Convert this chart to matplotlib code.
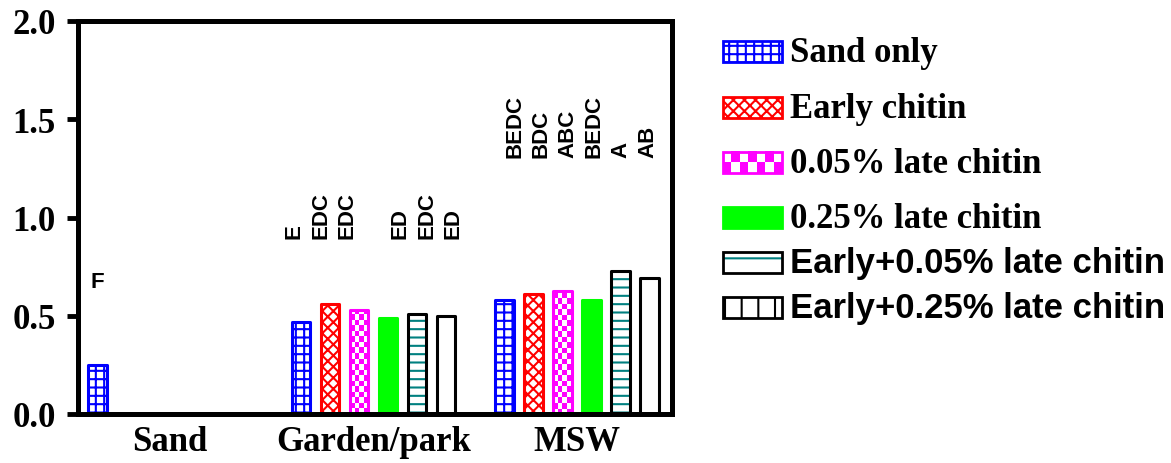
import numpy as np
import matplotlib
matplotlib.use('Agg')
import matplotlib.pyplot as plt
from matplotlib.patches import Rectangle
from matplotlib.colors import ListedColormap

plt.rcParams['hatch.linewidth'] = 1.5

groups = ['Sand', 'Garden/park', 'MSW']
treatments = ['Sand only', 'Early chitin', '0.05% late chitin', '0.25% late chitin',
              'Early+0.05% late chitin', 'Early+0.25% late chitin']

# dry weight per treatment, one list per growth medium
sand_vals = [0.25, np.nan, np.nan, np.nan, np.nan, np.nan]
garden_vals = [0.47, 0.56, 0.53, 0.49, 0.51, 0.50]
msw_vals = [0.58, 0.61, 0.625, 0.58, 0.73, 0.69]

# significance letters
sand_letters = ['F']
garden_letters = ['E', 'EDC', 'EDC', 'ED', 'EDC', 'ED']
msw_letters = ['BEDC', 'BDC', 'ABC', 'BEDC', 'A', 'AB']
garden_letter_x = [0.609, 0.740, 0.870, 1.130, 1.263, 1.391]
msw_letter_x = [1.695, 1.823, 1.956, 2.084, 2.216, 2.348]

yticks = [0.0, 0.5, 1.0, 1.5, 2.0]

edge_colors = ['blue', 'red', 'magenta', '#00ff00', 'black', 'black']
face_colors = ['white', 'white', 'white', '#00ff00', 'white', 'white']
hatches = ['++', 'xxx', None, None, '--', None]
teal = '#008080'

serif = dict(family='Liberation Serif', weight='bold')
sans = dict(family='Liberation Sans', weight='bold')

W, H = 1171, 464
fig = plt.figure(figsize=(W / 100, H / 100), dpi=100)
ax = fig.add_axes([78 / W, 1 - 415 / H, (672 - 78) / W, (415 - 22) / H])

values = np.array([sand_vals, garden_vals, msw_vals])
x = np.arange(len(groups))
step = 0.1425
width = 0.092
checker = ListedColormap(['white', 'magenta'])

for i in range(len(treatments)):
    vals = values[:, i]
    keep = ~np.isnan(vals)
    xi = x[keep] + (i - 2.5) * step
    hi = vals[keep]
    if i == 2:
        bars = ax.bar(xi, hi, width, facecolor='none', edgecolor='magenta',
                      linewidth=2.2, joinstyle='round', zorder=3)
        for rect in bars:
            x0, w, h = rect.get_x(), rect.get_width(), rect.get_height()
            cell_h = 0.028
            nrows = int(np.ceil(h / cell_h))
            board = np.add.outer(np.arange(nrows), np.arange(4)) % 2
            im = ax.imshow(board, cmap=checker, origin='lower', aspect='auto',
                           interpolation='nearest',
                           extent=(x0, x0 + w, 0, nrows * cell_h), zorder=2)
            im.set_clip_path(rect)
    elif i == 4:
        ax.bar(xi, hi, width, facecolor='white', edgecolor=teal, hatch='--',
               linewidth=0, zorder=2)
        ax.bar(xi, hi, width, fill=False, edgecolor='black', linewidth=2.2,
               joinstyle='round', zorder=3)
    else:
        ax.bar(xi, hi, width, facecolor=face_colors[i], edgecolor=edge_colors[i],
               hatch=hatches[i], linewidth=2.2, joinstyle='round', zorder=3)

# letters above the bars
ax.text(0 - 2.5 * step, 0.62, sand_letters[0], ha='center', va='bottom',
        fontsize=16, **sans)
for lx, lab in zip(garden_letter_x, garden_letters):
    ax.text(lx, 0.896, lab, rotation=90, ha='center', va='bottom', fontsize=16, **sans)
for lx, lab in zip(msw_letter_x, msw_letters):
    ax.text(lx, 1.308, lab, rotation=90, ha='center', va='bottom', fontsize=16, **sans)

ax.set_xlim(-0.452, 2.467)
ax.set_ylim(0, 2.0)
ax.set_yticks(yticks)
ax.set_yticklabels([f'{t:.1f}' for t in yticks], fontsize=25, **serif)
ax.set_xticks(x)
ax.set_xticklabels(groups, fontsize=25, **serif)
ax.tick_params(axis='y', direction='out', length=8, width=3.5, pad=8)
ax.tick_params(axis='x', length=0, pad=8)
for sp in ax.spines.values():
    sp.set_linewidth(3.6)
    sp.set_zorder(5)


# legend drawn by hand on the figure
def fx(px):
    return px / W


def fy(py):
    return 1 - py / H


leg_y = [52, 108, 163, 218, 263, 308]
sw_x0, sw_x1, sw_h = 723, 782, 21
for i, (cy, name) in enumerate(zip(leg_y, treatments)):
    x0, y0 = fx(sw_x0), fy(cy + sw_h / 2)
    w, h = fx(sw_x1 - sw_x0), sw_h / H
    if i == 2:
        ncols, nrows = 7, 2
        for r in range(nrows):
            for c in range(ncols):
                if (r + c) % 2 == 0:
                    fig.add_artist(Rectangle((x0 + c * w / ncols, y0 + r * h / nrows),
                                             w / ncols, h / nrows, facecolor='magenta',
                                             linewidth=0, transform=fig.transFigure))
        fig.add_artist(Rectangle((x0, y0), w, h, fill=False, edgecolor='magenta',
                                 linewidth=2, transform=fig.transFigure))
    elif i == 4:
        fig.add_artist(Rectangle((x0, y0), w, h, facecolor='white', edgecolor=teal,
                                 hatch='-', linewidth=0, transform=fig.transFigure))
        fig.add_artist(Rectangle((x0, y0), w, h, fill=False, edgecolor='black',
                                 linewidth=2, transform=fig.transFigure))
    elif i == 5:
        fig.add_artist(Rectangle((x0, y0), w, h, facecolor='white', edgecolor='black',
                                 hatch='|', linewidth=2, transform=fig.transFigure))
    else:
        fig.add_artist(Rectangle((x0, y0), w, h, facecolor=face_colors[i],
                                 edgecolor=edge_colors[i], hatch=hatches[i],
                                 linewidth=2, transform=fig.transFigure))
    font = serif if i < 4 else sans
    fig.text(fx(790), fy(cy + 10), name, ha='left', va='baseline', fontsize=25, **font)

fig.savefig('out.png', dpi=100)
